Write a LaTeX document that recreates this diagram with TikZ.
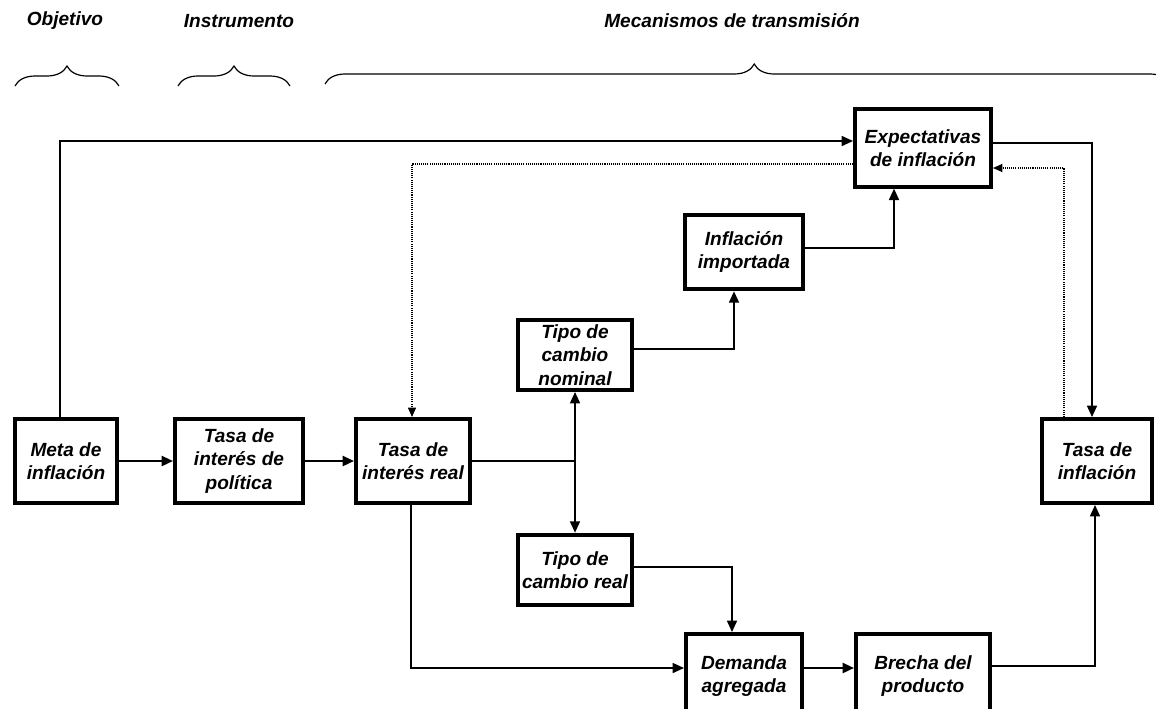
\documentclass[tikz,border=0pt]{standalone}
\usepackage{fontspec}
\setmainfont{Liberation Sans}
\usetikzlibrary{arrows.meta, decorations.pathreplacing, calc}

\begin{document}
\begin{tikzpicture}[x=0.75pt, y=-0.75pt,
    box/.style={draw, line width=3pt, inner sep=0pt, align=center,
        font=\fontsize{14.3}{17.5}\selectfont\bfseries\itshape},
    title/.style={font=\fontsize{14.3}{17.25}\selectfont\bfseries\itshape},
    arr/.style={line width=1.2pt, -{Triangle[length=8.5pt,width=7.5pt]}},
    mainarr/.style={line width=1.7pt, -{Triangle[length=8.5pt,width=7.5pt]}},
    dblarr/.style={line width=1.2pt, {Triangle[length=8.5pt,width=7.5pt]}-{Triangle[length=8.5pt,width=7.5pt]}},
    dotarr/.style={line width=0.8pt, dash pattern=on 0.8pt off 0.8pt, -{Triangle[length=7pt,width=6pt]}},
    brc/.style={line width=0.9pt, decorate, decoration={brace, amplitude=15pt}}]
\useasboundingbox (0,0) rectangle (1156,708);

\node[title] (tobj) at (65,21) {Objetivo};
\node[title] (tins) at (239,21) {Instrumento};
\node[title] (tmec) at (732,21) {Mecanismos de transmisión};

\draw[brc] (15,86) -- (119,86);
\draw[brc] (178,86) -- (290,86);
\draw[brc, decoration={aspect=0.508}] (325,84) -- (1170,84);

\node[box, minimum width=76.5pt, minimum height=63pt] (meta) at (66,461) {Meta de\\inflación};
\node[box, minimum width=96pt, minimum height=63pt] (pol) at (239,461) {Tasa de\\interés de\\política};
\node[box, minimum width=85.5pt, minimum height=63pt] (real) at (413,461) {Tasa de\\interés real};
\node[box, minimum width=85.5pt, minimum height=52.5pt] (nom) at (575,355) {Tipo de\\cambio\\nominal};
\node[box, minimum width=85.5pt, minimum height=53pt] (tcr) at (575,570) {Tipo de\\cambio real};
\node[box, minimum width=88pt, minimum height=56pt] (imp) at (744,252) {Inflación\\importada};
\node[box, minimum width=102pt, minimum height=58pt] (expec) at (923,148) {Expectativas\\de inflación};
\node[box, minimum width=83pt, minimum height=63pt] (infl) at (1097,461) {Tasa de\\inflación};
\node[box, minimum width=87pt, minimum height=63pt] (dem) at (744,676) {Demanda\\agregada};
\node[box, minimum width=100.5pt, minimum height=63pt] (brecha) at (923,676) {Brecha del\\producto};

\coordinate (c1) at (60,141);
\coordinate (c2) at (412,164);
\coordinate (c3) at (1092,143);
\coordinate (c4) at (1064,168);
\coordinate (c5) at (894,248);
\coordinate (c6) at (734,349);
\coordinate (c7) at (575,461);
\coordinate (c8) at (732,567);
\coordinate (c9) at (411,668);
\coordinate (c10) at (1095,666);

\draw[arr] (meta.north -| c1) |- (expec.west |- c1);
\draw[dotarr] (expec.west |- c2) -| (real.north -| c2);
\draw[arr] (expec.east |- c3) -| (infl.north -| c3);
\draw[dotarr] (infl.north -| c4) |- (expec.east |- c4);
\draw[arr] (imp.east |- c5) -| (expec.south -| c5);
\draw[arr] (nom.east |- c6) -| (imp.south -| c6);
\draw[line width=1.2pt] (real.east |- c7) -- (c7);
\draw[dblarr] (nom.south) -- (tcr.north);
\draw[arr] (tcr.east |- c8) -| (dem.north -| c8);
\draw[arr] (real.south -| c9) |- (dem.west |- c9);
\draw[mainarr] (meta.east) -- (pol.west);
\draw[mainarr] (pol.east) -- (real.west);
\draw[mainarr] (dem.east |- c9) -- (brecha.west |- c9);
\draw[arr] (brecha.east |- c10) -| (infl.south -| c10);
\end{tikzpicture}
\end{document}
